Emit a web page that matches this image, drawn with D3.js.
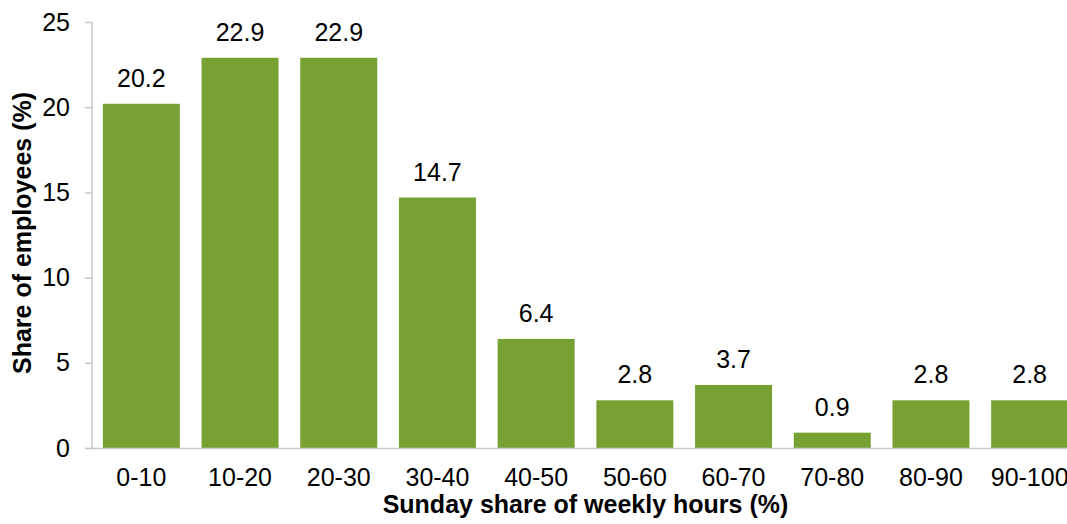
<!DOCTYPE html>
<html><head><meta charset="utf-8">
<script src="https://cdn.jsdelivr.net/npm/d3@7"></script>
<style>body{margin:0;background:#fff}svg{display:block}text{font-family:"Liberation Sans",Arial,sans-serif}</style>
</head><body>
<svg id="c" width="1067" height="524"></svg>
<script>
const categories = ["0-10","10-20","20-30","30-40","40-50","50-60","60-70","70-80","80-90","90-100"];
const values = [20.2,22.9,22.9,14.7,6.4,2.8,3.7,0.9,2.8,2.8];
const yTicks = [0,5,10,15,20,25];

const svg = d3.select("#c");
const x = d3.scaleBand().domain(categories).range([92,1079]).paddingInner(0.22).paddingOuter(0.11);
const y = d3.scaleLinear().domain([0,25]).range([448,22]);

// y axis
const ya = svg.append("g").attr("transform","translate(92,0)")
  .call(d3.axisLeft(y).tickValues(yTicks).tickSize(7).tickPadding(15).tickFormat(d3.format("d")));
ya.select(".domain").attr("stroke","#c8c8c8").attr("stroke-width",1.5).attr("d","M0,22V448");
ya.selectAll(".tick line").attr("stroke","#c8c8c8").attr("stroke-width",1.5);
ya.selectAll(".tick text").attr("font-size",25).attr("fill","#000").attr("font-family","Liberation Sans, Arial, sans-serif");

// bars
svg.append("g").selectAll("rect").data(values).join("rect")
  .attr("x",(d,i)=>x(categories[i])).attr("width",x.bandwidth())
  .attr("y",d=>y(d)).attr("height",d=>y(0)-y(d)).attr("fill","#78a133");

// x baseline
svg.append("line").attr("x1",85).attr("x2",1067).attr("y1",448.5).attr("y2",448.5)
  .attr("stroke","#c8c8c8").attr("stroke-width",1.5);

// x axis labels
const xa = svg.append("g").attr("transform","translate(0,448)")
  .call(d3.axisBottom(x).tickSize(0).tickPadding(20));
xa.select(".domain").remove();
xa.selectAll(".tick text").attr("font-size",25).attr("fill","#000").attr("font-family","Liberation Sans, Arial, sans-serif");

// data labels
svg.append("g").selectAll("text").data(values).join("text")
  .attr("x",(d,i)=>x(categories[i])+x.bandwidth()/2).attr("y",d=>y(d)-17)
  .attr("text-anchor","middle").attr("font-size",25).attr("fill","#000")
  .text(d=>d.toFixed(1));

// axis titles
svg.append("text").attr("x",585.5).attr("y",513).attr("text-anchor","middle")
  .attr("font-size",25).attr("font-weight","bold").text("Sunday share of weekly hours (%)");
svg.append("text").attr("transform","translate(31,233) rotate(-90)").attr("text-anchor","middle")
  .attr("font-size",25).attr("font-weight","bold").text("Share of employees (%)");
</script>
</body></html>
